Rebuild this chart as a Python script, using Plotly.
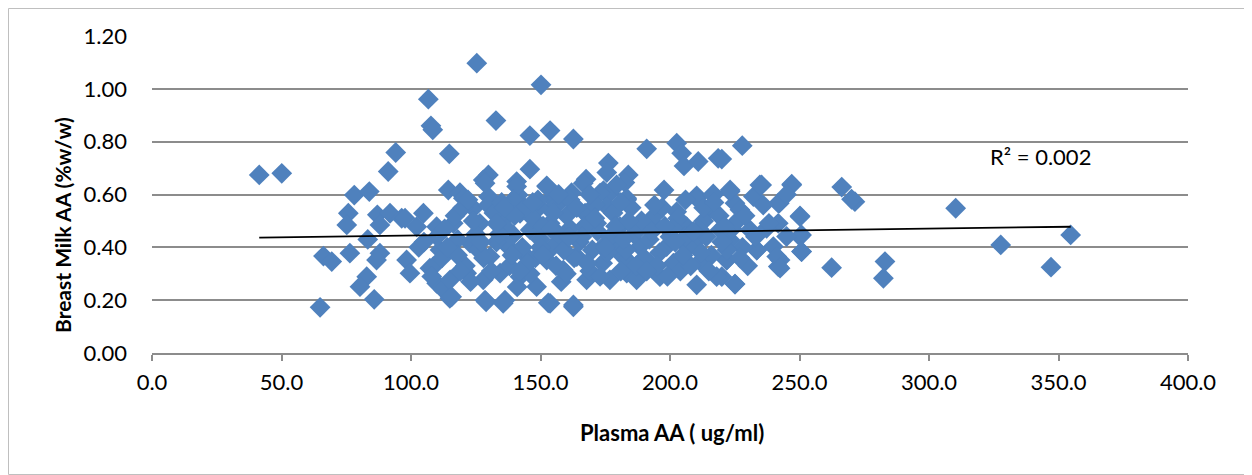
import plotly.graph_objects as go

# ---- data ----
plasma_aa = [
    41.4, 50.1, 78.1, 83.9, 75.8, 75.2, 83.3, 87.0, 91.9, 88.0, 96.4, 91.2, 94.1, 66.2, 69.4, 76.4, 88.0, 86.7, 98.3, 82.9, 80.3, 85.8, 64.9,
    125.4, 150.2, 106.7, 107.7, 108.4, 132.8, 145.9, 153.7, 114.8, 129.9, 127.9, 140.8, 145.9, 152.4, 114.4, 118.9, 129.9, 141.4, 154.3,
    162.7, 191.0, 202.6, 204.5, 205.4, 210.9, 218.6, 176.2, 175.6, 167.6, 183.9, 182.6, 197.7, 162.0, 174.3, 176.8, 210.3, 216.7,
    227.9, 220.0, 247.0, 235.4, 223.2, 266.3, 271.4, 270.1, 242.2, 250.2, 232.2, 225.1, 241.8, 237.3, 250.8, 233.5, 239.9, 242.5,
    241.8, 250.8, 221.9, 220.0, 225.1, 262.4, 283.0, 282.4, 310.3, 327.7, 347.1, 354.7,
    97.7, 104.8, 102.2, 99.6, 107.3, 109.9, 112.5, 115.0, 129.0, 136.3, 153.0, 162.7,
    128.6, 140.8, 152.4, 166.5, 179.4, 120.2, 124.1, 129.8, 139.5, 142.1, 149.8, 156.3, 161.4, 173.0, 175.6, 183.3, 167.2,
    109.9, 116.3, 126.6, 135.6, 146.0, 153.7, 161.4, 171.7, 180.7, 139.5, 158.8,
    111.2, 122.8, 130.5, 136.9, 144.7, 154.9, 164.0, 174.2, 181.9, 152.4,
    108.6, 115.1, 121.5, 127.9, 134.4, 142.1, 148.5, 158.8, 167.8, 176.8, 183.3,
    115.7, 128.6, 135.6, 153.7, 162.7,
    210.3, 216.7, 223.2, 234.7, 247.0, 241.8, 183.3, 202.6, 215.4, 227.0, 250.2, 238.2, 184.6, 193.6, 206.4, 219.3, 230.9,
    250.2, 245.0, 188.4, 198.7, 209.0, 223.2, 233.5, 241.2, 250.8, 183.3, 192.3, 201.3, 211.6, 221.9, 187.1, 196.1, 218.0,
    210.3, 225.1, 242.5,
    103, 112, 118, 121, 125, 133, 138, 143, 147, 150, 156, 160, 165, 169, 172, 178, 180, 186, 190, 194, 200, 204, 207, 213,
    216, 219, 224, 228, 230, 236, 245,
    110, 117, 123, 132, 137, 141, 144, 148, 151, 155, 158, 163, 167, 171, 174, 177, 181, 185, 188, 192, 196, 199, 203, 206,
    212, 214, 222, 226, 118, 126, 131, 135, 139, 146, 149, 157, 159, 164, 170, 173, 179, 183, 187, 193, 197, 201, 208, 211,
    105, 113, 119, 124, 128, 134, 140, 145, 150, 154, 160, 166, 171, 176, 182, 189, 195, 202, 209, 215, 221, 227, 233,
    108, 114, 120, 127, 133, 142, 151, 161, 168, 175, 184, 191, 198, 205, 213, 220, 229,
    122, 136, 147, 157, 169, 181, 194, 206, 217,
]
milk_aa = [
    0.674, 0.680, 0.598, 0.611, 0.529, 0.485, 0.430, 0.523, 0.529, 0.485, 0.510, 0.687, 0.759, 0.367, 0.346, 0.378, 0.378, 0.352, 0.352, 0.289, 0.251, 0.203, 0.173,
    1.097, 1.015, 0.961, 0.860, 0.845, 0.880, 0.823, 0.842, 0.754, 0.674, 0.655, 0.649, 0.696, 0.633, 0.617, 0.607, 0.592, 0.598, 0.586,
    0.810, 0.773, 0.794, 0.756, 0.708, 0.725, 0.737, 0.719, 0.683, 0.658, 0.674, 0.645, 0.617, 0.607, 0.615, 0.605, 0.595, 0.602,
    0.785, 0.734, 0.639, 0.636, 0.611, 0.628, 0.573, 0.582, 0.567, 0.519, 0.592, 0.567, 0.491, 0.472, 0.447, 0.390, 0.403, 0.352,
    0.327, 0.384, 0.352, 0.289, 0.261, 0.323, 0.346, 0.283, 0.548, 0.409, 0.325, 0.447,
    0.510, 0.529, 0.478, 0.302, 0.321, 0.264, 0.239, 0.207, 0.194, 0.200, 0.190, 0.182,
    0.643, 0.630, 0.630, 0.643, 0.636, 0.586, 0.548, 0.560, 0.580, 0.529, 0.554, 0.560, 0.580, 0.605, 0.554, 0.580, 0.529,
    0.478, 0.491, 0.491, 0.504, 0.466, 0.491, 0.472, 0.491, 0.478, 0.447, 0.441,
    0.390, 0.416, 0.365, 0.409, 0.365, 0.403, 0.365, 0.403, 0.365, 0.352,
    0.327, 0.277, 0.302, 0.277, 0.302, 0.289, 0.251, 0.314, 0.277, 0.277, 0.302,
    0.213, 0.200, 0.188, 0.188, 0.175,
    0.586, 0.598, 0.617, 0.636, 0.636, 0.567, 0.586, 0.535, 0.542, 0.542, 0.516, 0.491, 0.491, 0.491, 0.478, 0.466, 0.466,
    0.441, 0.441, 0.403, 0.403, 0.416, 0.428, 0.390, 0.365, 0.384, 0.352, 0.340, 0.340, 0.346, 0.352, 0.277, 0.289, 0.289,
    0.258, 0.261, 0.321,
    0.40, 0.36, 0.43, 0.33, 0.45, 0.42, 0.33, 0.40, 0.51, 0.43, 0.33, 0.52, 0.42, 0.31, 0.46, 0.53, 0.41, 0.45, 0.36, 0.52, 0.44, 0.31, 0.40, 0.50,
    0.37, 0.52, 0.47, 0.40, 0.33, 0.56, 0.60,
    0.44, 0.52, 0.27, 0.53, 0.47, 0.25, 0.55, 0.36, 0.48, 0.53, 0.27, 0.36, 0.48, 0.56, 0.34, 0.44, 0.31, 0.55, 0.47, 0.43, 0.38, 0.29, 0.51, 0.44,
    0.38, 0.44, 0.39, 0.50, 0.37, 0.39, 0.31, 0.57, 0.37, 0.30, 0.58, 0.45, 0.39, 0.55, 0.39, 0.29, 0.48, 0.39, 0.33, 0.46, 0.55, 0.47, 0.33, 0.47,
    0.42, 0.47, 0.31, 0.50, 0.36, 0.45, 0.52, 0.34, 0.40, 0.47, 0.30, 0.44, 0.51, 0.38, 0.43, 0.50, 0.33, 0.42, 0.46, 0.31, 0.48, 0.36, 0.44,
    0.29, 0.40, 0.55, 0.42, 0.49, 0.31, 0.37, 0.44, 0.34, 0.40, 0.50, 0.31, 0.48, 0.37, 0.55, 0.42, 0.52,
    0.58, 0.55, 0.57, 0.60, 0.60, 0.57, 0.56, 0.58, 0.57,
]
assert len(plasma_aa) == len(milk_aa)
trend_x = [41.4, 354.7]
trend_y = [0.437, 0.478]
r2_label = "R² = 0.002"
x_title = "Plasma AA ( ug/ml)"
y_title = "Breast Milk AA (%w/w)"

FONT = "Lato, Open Sans, sans-serif"
# page has an 8px body margin, so the figure is shrunk/offset accordingly
W, H = 1244, 467
L, R, T, B = 144, 64, 28, 122
pw, ph = W - L - R, H - T - B

fig = go.Figure()
fig.add_trace(go.Scatter(
    x=plasma_aa, y=milk_aa, mode="markers",
    marker=dict(symbol="diamond", size=16, color="#4F81BD", line=dict(width=0)),
    showlegend=False, hoverinfo="x+y",
))
fig.add_trace(go.Scatter(
    x=trend_x, y=trend_y, mode="lines",
    line=dict(color="black", width=1.8), showlegend=False, hoverinfo="skip",
))

fig.add_annotation(x=343, y=0.742, xref="x", yref="y", text=r2_label, showarrow=False,
                   font=dict(family=FONT, size=22, color="black"))

# axis titles (placed as in the reference)
fig.add_annotation(xref="paper", yref="paper", x=-(152 - 62) / pw, y=(353 - 225) / ph,
                   text="<b>" + y_title + "</b>", textangle=-90, showarrow=False,
                   xanchor="center", yanchor="middle",
                   font=dict(family=FONT, size=21, color="black"))
fig.add_annotation(xref="paper", yref="paper", x=(672 - 152) / pw, y=-(432 - 353) / ph,
                   text="<b>" + x_title + "</b>", showarrow=False,
                   xanchor="center", yanchor="middle",
                   font=dict(family=FONT, size=22, color="black"))

# outer chart border
fig.add_shape(type="rect", xref="paper", yref="paper",
              x0=(0.5 - L) / pw, x1=(W - 0.5 - L) / pw,
              y0=-(B - 0.5) / ph, y1=(T + ph - 0.5) / ph,
              line=dict(color="#BFBFBF", width=1), fillcolor="rgba(0,0,0,0)", layer="below")

fig.update_layout(
    width=W, height=H,
    margin=dict(l=L, r=R, t=T, b=B),
    paper_bgcolor="white", plot_bgcolor="white",
    font=dict(family=FONT, size=22, color="black"),
    xaxis=dict(
        range=[0, 400], dtick=50, tick0=0, tickformat=".1f",
        showgrid=False, zeroline=False,
        showline=True, linecolor="#8C8C8C", linewidth=1.5,
        ticks="outside", ticklen=6, tickcolor="#8C8C8C", tickwidth=1.5,
        ticklabelstandoff=3,
        tickfont=dict(family=FONT, size=22),
    ),
    yaxis=dict(
        range=[0, 1.2], dtick=0.2, tick0=0, tickformat=".2f",
        showgrid=True, gridcolor="#8C8C8C", gridwidth=1.5,
        zeroline=False, showline=False, ticks="",
        ticklabelstandoff=24,
        tickfont=dict(family=FONT, size=22),
    ),
)

fig.write_html("out.html")
